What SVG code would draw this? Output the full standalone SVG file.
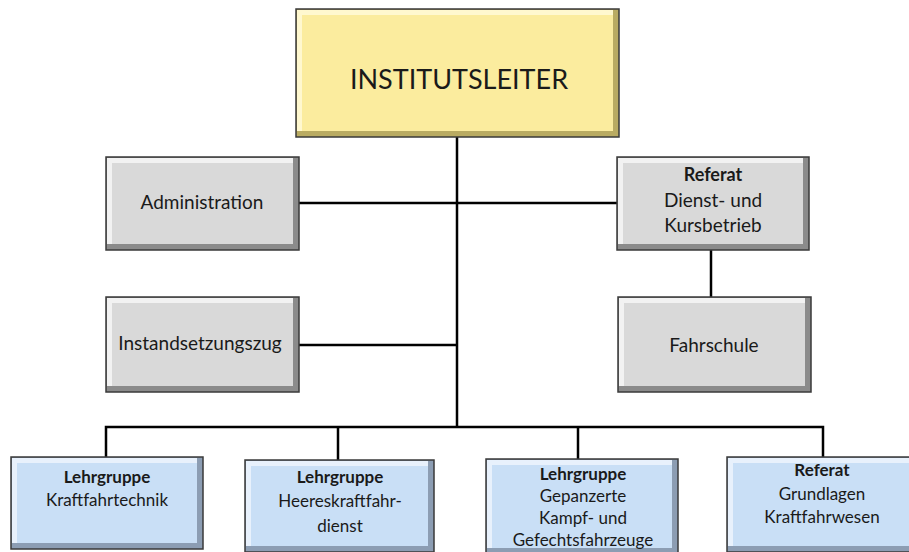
<svg xmlns="http://www.w3.org/2000/svg" width="909" height="552" viewBox="0 0 909 552">
<style>
  .t{font-family:Lato,"Liberation Sans",sans-serif;fill:#1a1a1a;text-anchor:middle}
  .b{font-weight:bold}
  .edge{stroke:#3a3a3a;stroke-width:1.5}
  .y .dk{fill:#b9ab62}.y .lt{fill:#fff8cf}.y .face{fill:#fbec9e}
  .g .dk{fill:#8b8b8b}.g .lt{fill:#f2f2f2}.g .face{fill:#d9d9d9}
  .u .dk{fill:#8c9db3}.u .lt{fill:#e8f1fc}.u .face{fill:#c9dff6}
  .conn{fill:none;stroke:#000;stroke-width:2.5}
</style>
<rect width="909" height="552" fill="#fff"/>
<g id="connectors" class="conn">
  <path d="M457 137V427"/>
  <path d="M299 203H617"/>
  <path d="M711 250V297"/>
  <path d="M299 345H457"/>
  <path d="M106 457V427H823V457"/>
  <path d="M338 427V460"/>
  <path d="M578 427V459"/>
</g>
<g id="institutsleiter" class="y">
  <rect class="dk edge" x="296" y="9" width="323" height="128"/>
  <rect class="lt" x="297" y="10" width="316" height="121"/>
  <rect class="face" x="302" y="15" width="311" height="116"/>
  <text class="t" x="459" y="89" font-size="27">INSTITUTSLEITER</text>
</g>
<g id="administration" class="g">
  <rect class="dk edge" x="106" y="157" width="193" height="93"/>
  <rect class="lt" x="107" y="158" width="186" height="86"/>
  <rect class="face" x="112" y="163" width="181" height="81"/>
  <text class="t" x="202" y="209" font-size="19">Administration</text>
</g>
<g id="referat-dienst" class="g">
  <rect class="dk edge" x="617" y="157" width="192" height="93"/>
  <rect class="lt" x="618" y="158" width="185" height="86"/>
  <rect class="face" x="623" y="163" width="180" height="81"/>
  <text class="t b" x="713" y="181" font-size="18">Referat</text>
  <text class="t" x="713" y="207" font-size="19">Dienst- und</text>
  <text class="t" x="713" y="232" font-size="19">Kursbetrieb</text>
</g>
<g id="instandsetzungszug" class="g">
  <rect class="dk edge" x="106" y="297" width="193" height="95"/>
  <rect class="lt" x="107" y="298" width="186" height="88"/>
  <rect class="face" x="112" y="303" width="181" height="83"/>
  <text class="t" x="200" y="350" font-size="19">Instandsetzungszug</text>
</g>
<g id="fahrschule" class="g">
  <rect class="dk edge" x="618" y="297" width="193" height="95"/>
  <rect class="lt" x="619" y="298" width="186" height="88"/>
  <rect class="face" x="624" y="303" width="181" height="83"/>
  <text class="t" x="714" y="352" font-size="19">Fahrschule</text>
</g>
<g id="lg-kraftfahrtechnik" class="u">
  <rect class="dk edge" x="11" y="457" width="192" height="92"/>
  <rect class="lt" x="12" y="458" width="185" height="85"/>
  <rect class="face" x="17" y="463" width="180" height="80"/>
  <text class="t b" x="107" y="483" font-size="17">Lehrgruppe</text>
  <text class="t" x="107" y="506" font-size="17">Kraftfahrtechnik</text>
</g>
<g id="lg-heereskraftfahrdienst" class="u">
  <rect class="dk edge" x="245" y="460" width="189" height="92"/>
  <rect class="lt" x="246" y="461" width="182" height="85"/>
  <rect class="face" x="251" y="466" width="177" height="80"/>
  <text class="t b" x="340" y="483" font-size="17">Lehrgruppe</text>
  <text class="t" x="340" y="507" font-size="17">Heereskraftfahr-</text>
  <text class="t" x="340" y="532" font-size="17">dienst</text>
</g>
<g id="lg-gepanzerte" class="u">
  <rect class="dk edge" x="486" y="459" width="192" height="95"/>
  <rect class="lt" x="487" y="460" width="185" height="88"/>
  <rect class="face" x="492" y="465" width="180" height="83"/>
  <text class="t b" x="583" y="480" font-size="17">Lehrgruppe</text>
  <text class="t" x="583" y="502" font-size="17">Gepanzerte</text>
  <text class="t" x="583" y="524" font-size="17">Kampf- und</text>
  <text class="t" x="583" y="546" font-size="17">Gefechtsfahrzeuge</text>
</g>
<g id="ref-grundlagen" class="u">
  <rect class="dk edge" x="727" y="457" width="190" height="95"/>
  <rect class="lt" x="728" y="458" width="183" height="88"/>
  <rect class="face" x="733" y="463" width="178" height="83"/>
  <text class="t b" x="822" y="476" font-size="17">Referat</text>
  <text class="t" x="822" y="500" font-size="17">Grundlagen</text>
  <text class="t" x="822" y="523" font-size="17">Kraftfahrwesen</text>
</g>
</svg>
